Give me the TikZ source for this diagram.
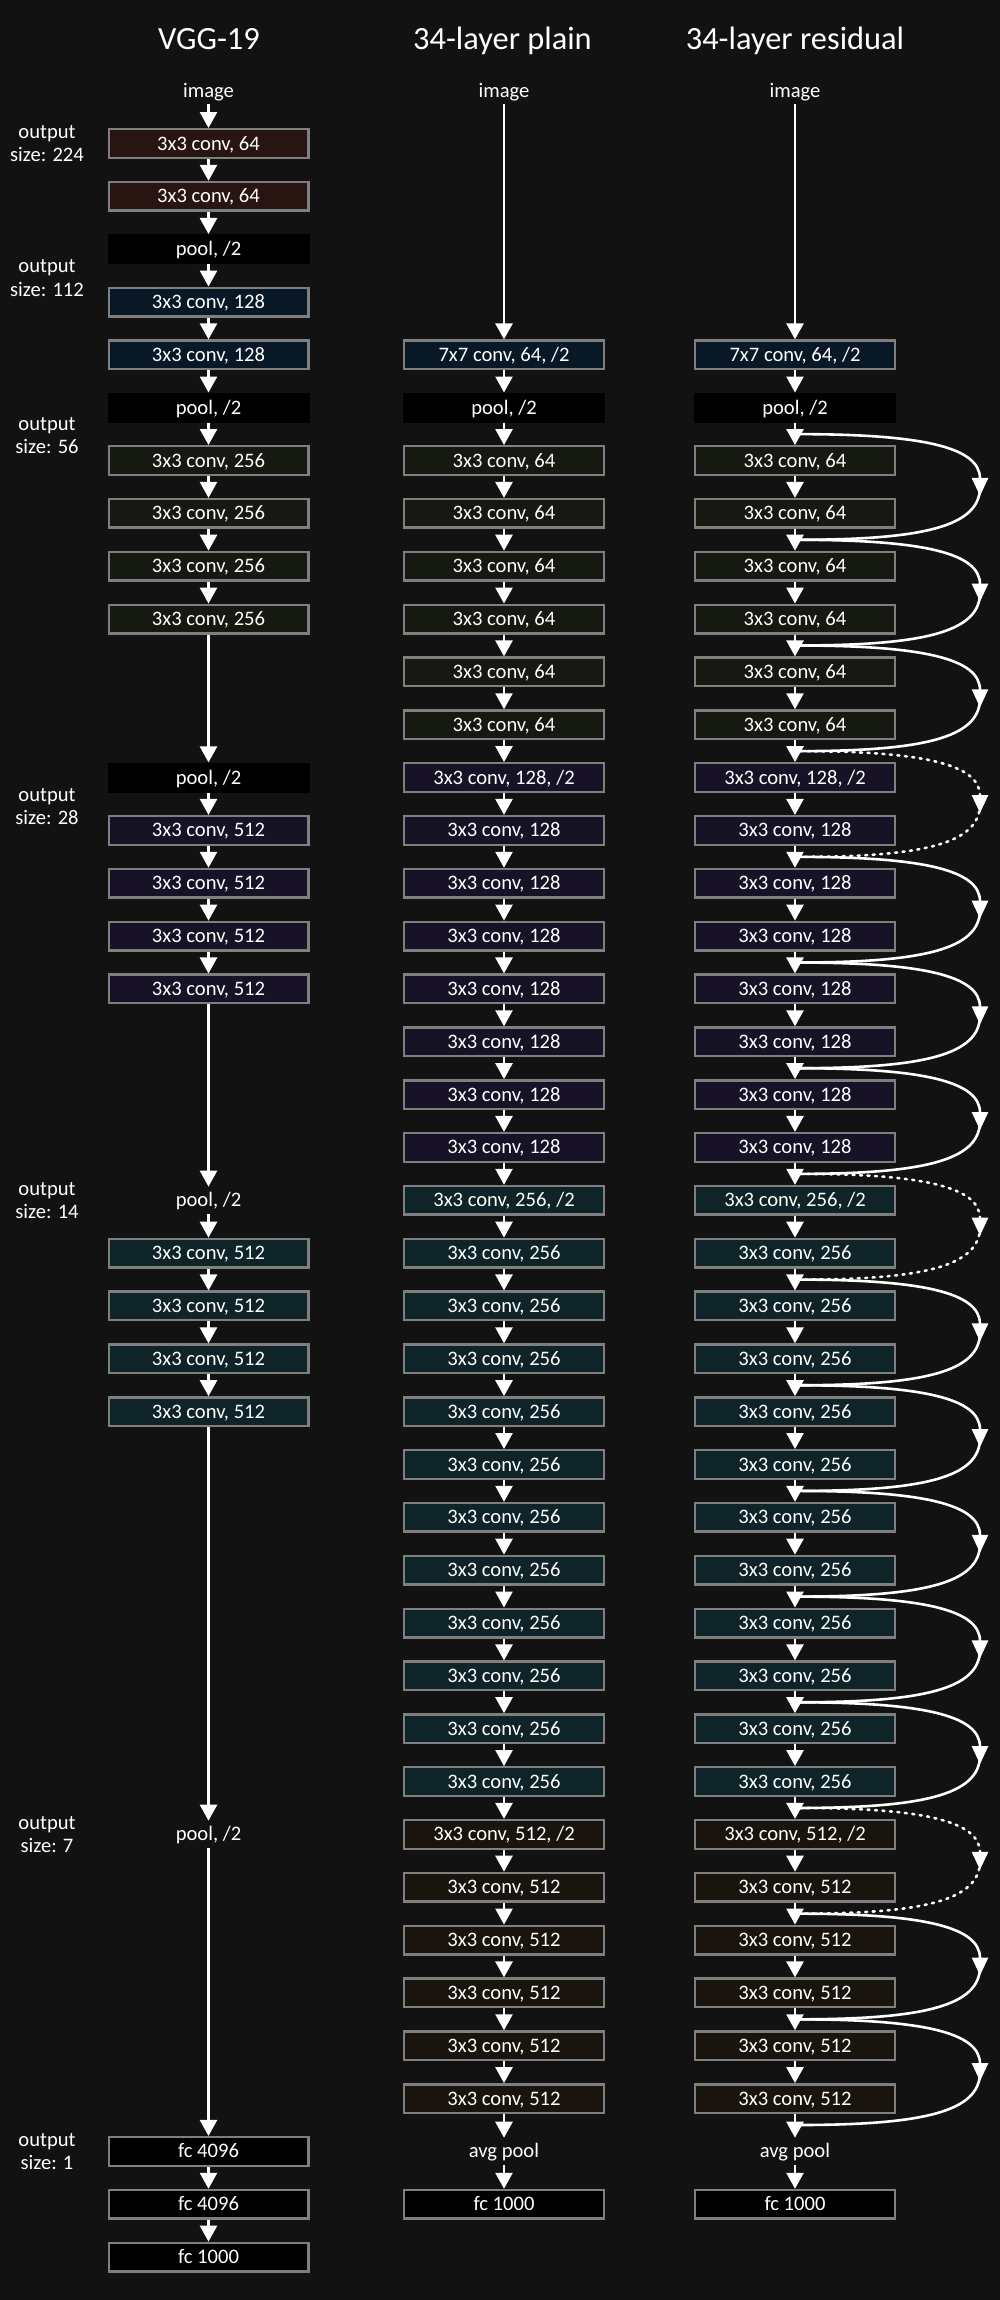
\documentclass[tikz,border=0pt]{standalone}
\usepackage{fontspec}
\setmainfont{Carlito}
\usetikzlibrary{arrows.meta}
\definecolor{bgc}{RGB}{18,18,18}
\definecolor{bordc}{RGB}{127,127,127}
\definecolor{cbrown}{RGB}{40,20,16}
\definecolor{cnavy}{RGB}{8,24,38}
\definecolor{colive}{RGB}{22,24,18}
\definecolor{cpurple}{RGB}{24,18,38}
\definecolor{cteal}{RGB}{14,36,40}
\definecolor{cbrowntwo}{RGB}{26,20,14}
\begin{document}
\begin{tikzpicture}[x=1pt,y=-1pt,
  every node/.style={text=white, font=\fontsize{20.6}{24}\selectfont},
  blk/.style={rectangle, minimum width=199.6pt, minimum height=28.6pt, inner sep=0pt,
    draw=bordc, line width=2.4pt, text height=13pt, text depth=0pt},
  poolbox/.style={rectangle, fill=black, minimum width=202pt, minimum height=30pt,
    inner sep=0pt, text height=13pt, text depth=0pt},
  txt/.style={inner xsep=2pt, inner ysep=7pt, text height=13pt, text depth=0pt},
  lbl/.style={inner sep=0pt, text height=13pt, text depth=0pt},
  ttl/.style={font=\fontsize{32.4}{38}\selectfont, anchor=base, inner sep=0pt},
  arr/.style={draw=white, line width=2.6pt, -{Triangle[width=17pt,length=16pt]}},
  sc/.style={draw=white, line width=2.6pt},
  sctip/.style={sc, -{Triangle[width=16pt,length=18pt]}},
  dotted line/.style={dash pattern=on 2pt off 5.5pt, line cap=round},
]
\fill[bgc] (0,0) rectangle (1000,2300);
\useasboundingbox (0,0) rectangle (1000,2300);

% titles
\node[ttl] (t1) at (209,49.5) {VGG-19};
\node[ttl] (t2) at (502.5,49.5) {34-layer plain};
\node[ttl] (t3) at (795,49.5) {34-layer residual};

% left labels
\foreach \n/\r/\t in {a/0/224, b/2.55/112, c/5.53/56, d/12.55/28, e/20/14, f/32/7, g/38/1} {
  \node[lbl] (out\n) at (47,{143.5+52.84*\r-11.75}) {output};
  \node[lbl] (size\n) at (47,{143.5+52.84*\r+11.75}) {size: \t};
}

% VGG-19
\node[txt] (vimg) at (208.5,90.5) {image};
\foreach \k in {0,1} \node[blk, fill=cbrown] (v\k) at (208.5,{143.5+52.84*\k}) {3x3 conv, 64};
\foreach \k in {2,5,12} \node[poolbox] (v\k) at (208.5,{143.5+52.84*\k}) {pool, /2};
\foreach \k in {3,4} \node[blk, fill=cnavy] (v\k) at (208.5,{143.5+52.84*\k}) {3x3 conv, 128};
\foreach \k in {6,...,9} \node[blk, fill=colive] (v\k) at (208.5,{143.5+52.84*\k}) {3x3 conv, 256};
\foreach \k in {13,...,16} \node[blk, fill=cpurple] (v\k) at (208.5,{143.5+52.84*\k}) {3x3 conv, 512};
\foreach \k in {20,32} \node[txt] (v\k) at (208.5,{143.5+52.84*\k}) {pool, /2};
\foreach \k in {21,...,24} \node[blk, fill=cteal] (v\k) at (208.5,{143.5+52.84*\k}) {3x3 conv, 512};
\foreach \k in {38,39} \node[blk, fill=black] (v\k) at (208.5,{143.5+52.84*\k}) {fc 4096};
\node[blk, fill=black] (v40) at (208.5,{143.5+52.84*40}) {fc 1000};
\foreach \a/\b in {img/0,0/1,1/2,2/3,3/4,4/5,5/6,6/7,7/8,8/9,9/12,12/13,13/14,14/15,15/16,16/20,20/21,21/22,22/23,23/24,24/32,32/38,38/39,39/40}
  \draw[arr] (v\a) -- (v\b);

% residual shortcuts (drawn first)
\foreach \s in {5,7,9,13,15,17,21,23,25,27,29,33,35} {
  \coordinate (ja\s) at (797,{143.5+52.84*(\s+0.5)});
  \coordinate (jm\s) at (980,{143.5+52.84*(\s+1.5)});
  \coordinate (jt\s) at (980,{143.5+52.84*(\s+1.5)+9});
  \coordinate (je\s) at (797,{143.5+52.84*(\s+2.5)});
  \draw[sctip] (ja\s) .. controls +(125,0) and +(0,-49) .. (jt\s);
  \draw[sc] (jm\s) .. controls +(0,40) and +(125,0) .. (je\s);
}
\foreach \s in {11,19,31} {
  \coordinate (da\s) at (800,{143.5+52.84*(\s+0.5)});
  \coordinate (dm\s) at (980,{143.5+52.84*(\s+1.5)});
  \coordinate (dt\s) at (980,{143.5+52.84*(\s+1.5)+9});
  \coordinate (de\s) at (800,{143.5+52.84*(\s+2.5)});
  \draw[sctip, dotted line] (da\s) .. controls +(122,0) and +(0,-49) .. (dt\s);
  \draw[sc, dotted line] (dm\s) .. controls +(0,40) and +(122,0) .. (de\s);
}

% plain and residual columns
\foreach \c/\cx in {p/504,r/795} {
  \node[txt] (img\c) at (\cx,90.5) {image};
  \node[blk, fill=cnavy] (\c4) at (\cx,{143.5+52.84*4}) {7x7 conv, 64, /2};
  \node[poolbox] (\c5) at (\cx,{143.5+52.84*5}) {pool, /2};
  \foreach \k in {6,...,11} \node[blk, fill=colive] (\c\k) at (\cx,{143.5+52.84*\k}) {3x3 conv, 64};
  \node[blk, fill=cpurple] (\c12) at (\cx,{143.5+52.84*12}) {3x3 conv, 128, /2};
  \foreach \k in {13,...,19} \node[blk, fill=cpurple] (\c\k) at (\cx,{143.5+52.84*\k}) {3x3 conv, 128};
  \node[blk, fill=cteal] (\c20) at (\cx,{143.5+52.84*20}) {3x3 conv, 256, /2};
  \foreach \k in {21,...,31} \node[blk, fill=cteal] (\c\k) at (\cx,{143.5+52.84*\k}) {3x3 conv, 256};
  \node[blk, fill=cbrowntwo] (\c32) at (\cx,{143.5+52.84*32}) {3x3 conv, 512, /2};
  \foreach \k in {33,...,37} \node[blk, fill=cbrowntwo] (\c\k) at (\cx,{143.5+52.84*\k}) {3x3 conv, 512};
  \node[txt] (\c38) at (\cx,{143.5+52.84*38}) {avg pool};
  \node[blk, fill=black] (\c39) at (\cx,{143.5+52.84*39}) {fc 1000};
  \draw[arr] (img\c) -- (\c4);
  \foreach \k in {4,...,38} {
    \pgfmathtruncatemacro\nx{\k+1}
    \draw[arr] (\c\k) -- (\c\nx);
  }
}
\end{tikzpicture}
\end{document}
